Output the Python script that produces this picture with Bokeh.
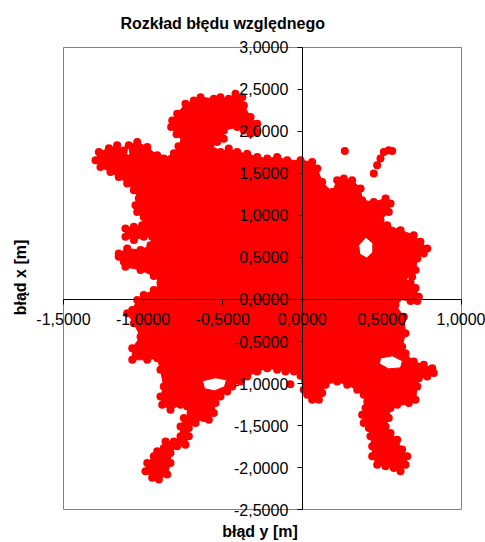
from bokeh.plotting import figure
from bokeh.models import FixedTicker, LinearAxis, Range1d, Title
from bokeh.embed import file_html
from bokeh.resources import INLINE

# Axis ticks and their Polish-formatted labels
x_ticks = [-1.5, -1.0, -0.5, 0.0, 0.5, 1.0]
x_tick_labels = ["-1,5000", "-1,0000", "-0,5000", "0,0000", "0,5000", "1,0000"]
y_ticks = [-2.5, -2.0, -1.5, -1.0, -0.5, 0.0, 0.5, 1.0, 1.5, 2.0, 2.5, 3.0]
y_tick_labels = ["-2,5000", "-2,0000", "-1,5000", "-1,0000", "-0,5000", "0,0000",
                 "0,5000", "1,0000", "1,5000", "2,0000", "2,5000", "3,0000"]

# Edge of the dense error cloud: (błąd y, błąd x) in metres, clockwise from the top lobe
cloud_edge = [
    (-0.817, 2.132), (-0.786, 2.211), (-0.734, 2.330), (-0.681, 2.369), (-0.639, 2.408),
    (-0.556, 2.389), (-0.514, 2.408), (-0.462, 2.389), (-0.420, 2.449), (-0.377, 2.408),
    (-0.367, 2.310), (-0.325, 2.171), (-0.283, 2.093), (-0.283, 1.993), (-0.325, 1.974),
    (-0.367, 2.013), (-0.409, 2.052), (-0.493, 2.013), (-0.493, 1.914), (-0.535, 1.874),
    (-0.577, 1.835), (-0.556, 1.764), (-0.514, 1.755), (-0.462, 1.796), (-0.409, 1.755),
    (-0.346, 1.736), (-0.283, 1.696), (-0.220, 1.677), (-0.158, 1.696), (-0.095, 1.657),
    (-0.011, 1.657), (0.062, 1.637), (0.094, 1.558), (0.125, 1.399), (0.188, 1.280),
    (0.219, 1.419), (0.261, 1.439), (0.313, 1.419), (0.366, 1.321), (0.376, 1.182),
    (0.449, 1.161), (0.523, 1.202), (0.554, 1.142), (0.543, 1.043), (0.491, 0.944),
    (0.533, 0.885), (0.617, 0.825), (0.700, 0.766), (0.742, 0.686), (0.785, 0.608),
    (0.763, 0.549), (0.722, 0.489), (0.711, 0.350), (0.690, 0.271), (0.638, 0.267),
    (0.680, 0.196), (0.711, 0.137), (0.732, 0.033), (0.722, -0.018), (0.680, -0.018),
    (0.596, 0.006), (0.585, -0.065), (0.638, -0.204), (0.648, -0.401), (0.627, -0.561),
    (0.648, -0.639), (0.700, -0.739), (0.763, -0.778), (0.816, -0.817), (0.826, -0.876),
    (0.785, -0.917), (0.732, -0.936), (0.722, -1.036), (0.711, -1.194), (0.669, -1.233),
    (0.627, -1.214), (0.596, -1.253), (0.554, -1.292), (0.543, -1.411), (0.523, -1.511),
    (0.554, -1.589), (0.596, -1.669), (0.627, -1.787), (0.659, -1.867), (0.648, -1.966),
    (0.617, -2.045), (0.575, -2.005), (0.523, -1.986), (0.470, -1.966), (0.439, -1.867),
    (0.439, -1.748), (0.428, -1.629), (0.418, -1.530), (0.386, -1.470), (0.376, -1.372),
    (0.397, -1.292), (0.408, -1.214), (0.386, -1.134), (0.345, -1.075), (0.282, -1.015),
    (0.219, -0.976), (0.177, -0.956), (0.146, -1.015), (0.125, -1.114), (0.104, -1.194),
    (0.062, -1.194), (0.031, -1.134), (0.009, -1.075), (-0.011, -0.909), (-0.053, -0.857),
    (-0.106, -0.857), (-0.158, -0.837), (-0.220, -0.817), (-0.283, -0.857), (-0.346, -0.917),
    (-0.388, -0.976), (-0.440, -1.036), (-0.472, -1.095), (-0.514, -1.154), (-0.545, -1.233),
    (-0.556, -1.352), (-0.587, -1.431), (-0.619, -1.411), (-0.671, -1.470), (-0.713, -1.530),
    (-0.713, -1.629), (-0.734, -1.728), (-0.786, -1.748), (-0.828, -1.827), (-0.828, -1.945),
    (-0.849, -2.084), (-0.901, -2.144), (-0.943, -2.123), (-0.985, -2.045), (-0.974, -1.945),
    (-0.933, -1.867), (-0.911, -1.807), (-0.870, -1.767), (-0.859, -1.689), (-0.807, -1.689),
    (-0.765, -1.629), (-0.765, -1.511), (-0.744, -1.411), (-0.702, -1.352), (-0.723, -1.273),
    (-0.765, -1.253), (-0.828, -1.312), (-0.880, -1.253), (-0.891, -1.154), (-0.870, -1.036),
    (-0.891, -0.837), (-0.911, -0.698), (-0.974, -0.718), (-1.068, -0.718), (-1.068, -0.580),
    (-1.016, -0.442), (-1.058, -0.283), (-1.100, -0.164), (-1.068, -0.125), (-1.037, -0.006),
    (-0.996, 0.053), (-0.933, 0.113), (-0.891, 0.196), (-0.933, 0.279), (-1.016, 0.350),
    (-1.111, 0.390), (-1.121, 0.449), (-1.153, 0.508), (-1.153, 0.549), (-1.100, 0.608),
    (-1.016, 0.588), (-0.954, 0.647), (-0.943, 0.746), (-0.996, 0.746), (-1.058, 0.707),
    (-1.111, 0.746), (-1.111, 0.846), (-1.058, 0.865), (-1.006, 0.885), (-0.996, 0.983),
    (-1.037, 1.043), (-1.048, 1.122), (-1.027, 1.202), (-1.058, 1.300), (-1.100, 1.380),
    (-1.153, 1.458), (-1.205, 1.518), (-1.268, 1.577), (-1.299, 1.657), (-1.278, 1.755),
    (-1.215, 1.799), (-1.163, 1.835), (-1.121, 1.775), (-1.079, 1.680), (-1.090, 1.835),
    (-1.037, 1.874), (-0.974, 1.815), (-0.911, 1.716), (-0.870, 1.677), (-0.807, 1.740),
    (-0.778, 1.823), (-0.744, 1.874), (-0.790, 1.966), (-0.824, 2.052),
]

# Empty pockets inside the cloud
gap_right = [(0.399, 0.742), (0.443, 0.671), (0.443, 0.564), (0.405, 0.493), (0.361, 0.540), (0.354, 0.647)]
gap_lower_right = [(0.491, -0.695), (0.566, -0.671), (0.629, -0.730), (0.617, -0.814), (0.541, -0.825), (0.485, -0.766)]
gap_lower_left = [(-0.627, -0.968), (-0.545, -0.932), (-0.476, -0.956), (-0.489, -1.039), (-0.551, -1.087), (-0.614, -1.063)]

# Isolated samples outside the cloud
stray_points = [
    (0.267, 1.767),
    (0.449, 1.499), (0.470, 1.597), (0.491, 1.677), (0.512, 1.755), (0.543, 1.776), (0.565, 1.767),
    (-0.075, -1.010),
]

RED = "#FF0000"
FONT = "Liberation Sans"

# Canvas layout (pixels): the drawing frame is a bit larger than the boxed
# plot area so that the end tick labels of the crossing axes are not clipped.
W, H = 485, 542
FRAME_L, FRAME_R, FRAME_T, FRAME_B = 34, 485, 37, 518
BOX_L, BOX_R, BOX_T, BOX_B = 63, 461, 47, 510

x_lo, x_hi = x_ticks[0], x_ticks[-1]
y_lo, y_hi = y_ticks[0], y_ticks[-1]
sx = (BOX_R - BOX_L) / (x_hi - x_lo)
sy = (BOX_B - BOX_T) / (y_hi - y_lo)
x_range = Range1d(x_lo - (BOX_L - FRAME_L) / sx, x_hi + (FRAME_R - BOX_R) / sx)
y_range = Range1d(y_lo - (FRAME_B - BOX_B) / sy, y_hi + (BOX_T - FRAME_T) / sy)

p = figure(width=W, height=H, x_range=x_range, y_range=y_range,
           x_axis_location=None, y_axis_location=None,
           output_backend="svg", toolbar_location=None,
           min_border_left=FRAME_L, min_border_right=W - FRAME_R,
           min_border_top=FRAME_T, min_border_bottom=H - FRAME_B,
           background_fill_color="white", border_fill_color="white",
           outline_line_color=None)
p.grid.visible = False
p.title = Title(text="Rozkład błędu względnego", align="left", offset=86,
                text_font=FONT, text_font_size="16px", text_font_style="bold",
                text_color="#000000", standoff=12)

# grey plot-area box
p.quad(left=x_lo, right=x_hi, bottom=y_lo, top=y_hi,
       fill_color=None, line_color="#808080", line_width=1)

def rings(pts):
    return [q[0] for q in pts], [q[1] for q in pts]

edge_x, edge_y = rings(cloud_edge)
gaps = [rings(g) for g in (gap_right, gap_lower_right, gap_lower_left)]

p.multi_polygons(xs=[[[edge_x] + [g[0] for g in gaps]]],
                 ys=[[[edge_y] + [g[1] for g in gaps]]],
                 fill_color=RED, line_color=RED, line_width=1)

pts_x = edge_x + [q[0] for q in stray_points]
pts_y = edge_y + [q[1] for q in stray_points]
p.scatter(x=pts_x, y=pts_y, marker="circle", size=8, fill_color=RED, line_color=None)

def crossing_axis(ticks, labels):
    return LinearAxis(fixed_location=0, bounds=(ticks[0], ticks[-1]),
                      ticker=FixedTicker(ticks=ticks, minor_ticks=[]),
                      major_label_overrides={t: s for t, s in zip(ticks, labels)},
                      axis_line_color="#000000", axis_line_width=1,
                      major_tick_line_color="#000000", major_tick_out=5, major_tick_in=0,
                      minor_tick_line_color=None,
                      major_label_text_font=FONT, major_label_text_font_size="16px",
                      major_label_text_color="#000000", major_label_standoff=9)

p.add_layout(crossing_axis(x_ticks, x_tick_labels), "below")
p.add_layout(crossing_axis(y_ticks, y_tick_labels), "left")

def title_axis(text, standoff):
    return LinearAxis(ticker=FixedTicker(ticks=[], minor_ticks=[]),
                      axis_label=text, axis_label_standoff=standoff,
                      axis_label_text_font=FONT, axis_label_text_font_size="16px",
                      axis_label_text_font_style="bold", axis_label_text_color="#000000",
                      axis_line_color=None, major_tick_line_color=None,
                      minor_tick_line_color=None, major_tick_out=0, major_tick_in=0,
                      major_label_standoff=0)

p.add_layout(title_axis("błąd y [m]", 5), "below")
p.add_layout(title_axis("błąd x [m]", 6), "left")

open("out.html", "w").write(file_html(p, INLINE))
